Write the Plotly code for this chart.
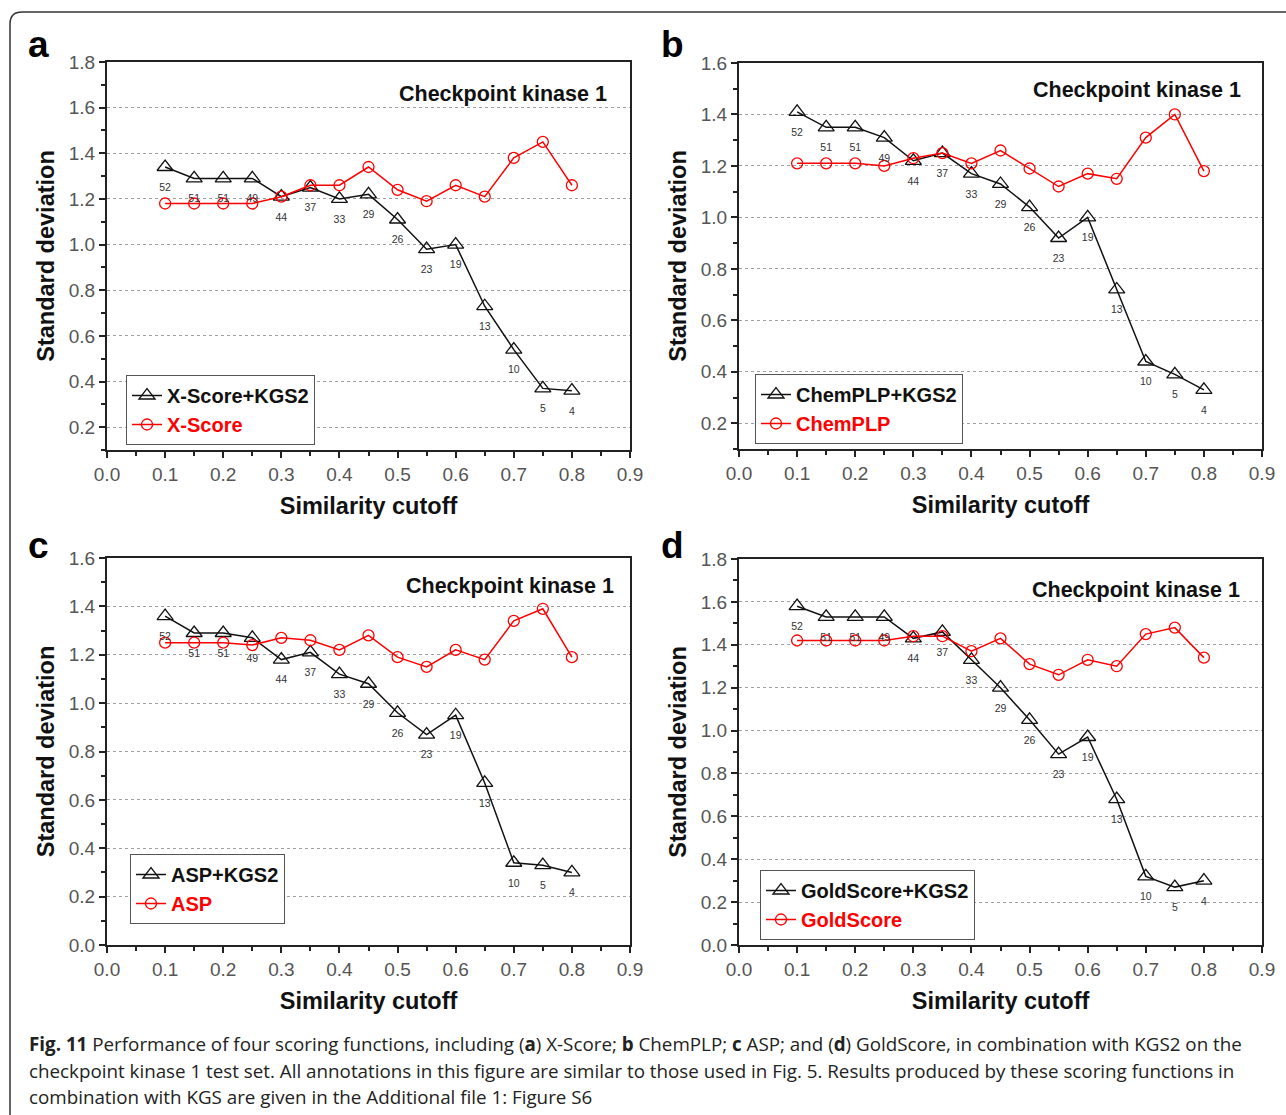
import plotly.graph_objects as go

W, H = 1286, 1115

# ---------------- data ----------------
cutoffs = [0.1, 0.15, 0.2, 0.25, 0.3, 0.35, 0.4, 0.45, 0.5, 0.55, 0.6, 0.65, 0.7, 0.75, 0.8]
set_sizes = ["52", "51", "51", "49", "44", "37", "33", "29", "26", "23", "19", "13", "10", "5", "4"]

xscore_kgs2 = [1.34, 1.29, 1.29, 1.29, 1.21, 1.25, 1.20, 1.22, 1.11, 0.98, 1.00, 0.73, 0.54, 0.37, 0.36]
xscore = [1.18, 1.18, 1.18, 1.18, 1.21, 1.26, 1.26, 1.34, 1.24, 1.19, 1.26, 1.21, 1.38, 1.45, 1.26]

chemplp_kgs2 = [1.41, 1.35, 1.35, 1.31, 1.22, 1.25, 1.17, 1.13, 1.04, 0.92, 1.00, 0.72, 0.44, 0.39, 0.33]
chemplp = [1.21, 1.21, 1.21, 1.20, 1.23, 1.25, 1.21, 1.26, 1.19, 1.12, 1.17, 1.15, 1.31, 1.40, 1.18]

asp_kgs2 = [1.36, 1.29, 1.29, 1.27, 1.18, 1.21, 1.12, 1.08, 0.96, 0.87, 0.95, 0.67, 0.34, 0.33, 0.30]
asp = [1.25, 1.25, 1.25, 1.24, 1.27, 1.26, 1.22, 1.28, 1.19, 1.15, 1.22, 1.18, 1.34, 1.39, 1.19]

goldscore_kgs2 = [1.58, 1.53, 1.53, 1.53, 1.43, 1.46, 1.33, 1.20, 1.05, 0.89, 0.97, 0.68, 0.32, 0.27, 0.30]
goldscore = [1.42, 1.42, 1.42, 1.42, 1.44, 1.44, 1.37, 1.43, 1.31, 1.26, 1.33, 1.30, 1.45, 1.48, 1.34]

panel_letters = ["a", "b", "c", "d"]
method_names = ["X-Score", "ChemPLP", "ASP", "GoldScore"]
y_ranges = [(0.1, 1.8), (0.1, 1.6), (0.0, 1.6), (0.0, 1.8)]
panel_title = "Checkpoint kinase 1"
x_title = "Similarity cutoff"
y_title = "Standard deviation"

caption_lines = [
    "<b>Fig. 11</b> Performance of four scoring functions, including (<b>a</b>) X-Score; <b>b</b> ChemPLP; "
    "<b>c</b> ASP; and (<b>d</b>) GoldScore, in combination with KGS2 on the",
    "checkpoint kinase 1 test set. All annotations in this figure are similar to those used in Fig. 5. "
    "Results produced by these scoring functions in",
    "combination with KGS are given in the Additional file 1: Figure S6",
]

kgs_series = [xscore_kgs2, chemplp_kgs2, asp_kgs2, goldscore_kgs2]
base_series = [xscore, chemplp, asp, goldscore]

# ---------------- layout helpers (pixel -> paper) ----------------
def px(x):
    return x / W

def py(y):
    return 1 - y / H

# plot-area boxes in pixels: (left, right, top, bottom)
boxes = [(107, 630, 62, 450), (739, 1262, 63, 449), (107, 630, 558, 945), (739, 1262, 559, 945)]
legend_pos = [(126, 375), (755, 374), (130, 854), (760, 870)]
title_pos = [(609, 94), (1243, 90), (616, 586), (1242, 590)]
letter_pos = [(38, 44), (672, 44), (38, 546), (672, 546)]

FONT = "Liberation Sans, Arial, sans-serif"
AXIS_COLOR = "#222222"
TICK_FONT = dict(family=FONT, size=19, color="#555555")
TITLE_FONT = dict(family=FONT, size=23.5, color="#111111")

fig = go.Figure()
layout = dict(
    width=W, height=H,
    margin=dict(l=0, r=0, t=0, b=0),
    paper_bgcolor="white", plot_bgcolor="white",
    template="none",
    showlegend=True,
    annotations=[], shapes=[],
)

for i in range(4):
    n = i + 1
    xa = "x" if n == 1 else f"x{n}"
    ya = "y" if n == 1 else f"y{n}"
    leg = "legend" if n == 1 else f"legend{n}"
    name = method_names[i]

    fig.add_trace(go.Scatter(
        x=cutoffs, y=kgs_series[i], xaxis=xa, yaxis=ya, legend=leg,
        mode="lines+markers",
        name=f"<b>{name}+KGS2</b>",
        line=dict(color="#111111", width=1.5),
        marker=dict(symbol="triangle-up-open", size=14, color="#111111", line=dict(width=1.3)),
    ))
    fig.add_trace(go.Scatter(
        x=cutoffs, y=base_series[i], xaxis=xa, yaxis=ya, legend=leg,
        mode="lines+markers",
        name=f'<span style="color:#ff0000"><b>{name}</b></span>',
        line=dict(color="#ff0000", width=1.5),
        marker=dict(symbol="circle-open", size=11, color="#ff0000", line=dict(width=1.3)),
    ))
    # set-size labels under the triangles (invisible spacer markers push the text down)
    fig.add_trace(go.Scatter(
        x=cutoffs, y=kgs_series[i], xaxis=xa, yaxis=ya,
        mode="markers+text", text=set_sizes, textposition="bottom center",
        marker=dict(size=24, color="rgba(0,0,0,0)"),
        textfont=dict(family=FONT, size=10.5, color="#333333"),
        showlegend=False, hoverinfo="skip",
    ))

    l, r, t, b = boxes[i]
    xkey = "xaxis" if n == 1 else f"xaxis{n}"
    ykey = "yaxis" if n == 1 else f"yaxis{n}"
    layout[xkey] = dict(
        domain=[px(l), px(r)], anchor=ya, range=[0, 0.9],
        tick0=0, dtick=0.1, tickformat=".1f",
        ticks="outside", ticklen=6, tickwidth=2, tickcolor=AXIS_COLOR,
        minor=dict(dtick=0.05, ticks="outside", ticklen=4, tickwidth=2, tickcolor=AXIS_COLOR, showgrid=False),
        showline=True, linecolor=AXIS_COLOR, linewidth=2, mirror=True,
        showgrid=False, zeroline=False, automargin=False,
        tickfont=TICK_FONT,
        title=dict(text=f"<b>{x_title}</b>", font=TITLE_FONT, standoff=14),
    )
    y0, y1 = y_ranges[i]
    layout[ykey] = dict(
        domain=[py(b), py(t)], anchor=xa, range=[y0, y1],
        tick0=0, dtick=0.2, tickformat=".1f",
        ticks="outside", ticklen=6, tickwidth=2, tickcolor=AXIS_COLOR,
        minor=dict(dtick=0.1, ticks="outside", ticklen=4, tickwidth=2, tickcolor=AXIS_COLOR, showgrid=False),
        showline=True, linecolor=AXIS_COLOR, linewidth=2, mirror=True,
        showgrid=True, gridcolor="#a0a0a0", gridwidth=1, griddash="dot",
        zeroline=False, automargin=False,
        tickfont=TICK_FONT,
        title=dict(text=f"<b>{y_title}</b>", font=TITLE_FONT, standoff=8),
    )
    lx, ly = legend_pos[i]
    layout[leg] = dict(
        x=px(lx), y=py(ly), xanchor="left", yanchor="top",
        bgcolor="white", bordercolor="#555555", borderwidth=1,
        font=dict(family=FONT, size=20, color="#111111"),
        tracegroupgap=0, itemsizing="trace",
    )
    tx, ty = title_pos[i]
    layout["annotations"].append(dict(
        text=f"<b>{panel_title}</b>", x=px(tx), y=py(ty), xref="paper", yref="paper",
        xanchor="right", yanchor="middle", showarrow=False,
        font=dict(family=FONT, size=21.5, color="#111111"),
    ))
    ax_, ay_ = letter_pos[i]
    layout["annotations"].append(dict(
        text=f"<b>{panel_letters[i]}</b>", x=px(ax_), y=py(ay_), xref="paper", yref="paper",
        xanchor="center", yanchor="middle", showarrow=False,
        font=dict(family=FONT, size=37, color="#000000"),
    ))

# caption
cap_y = [1044, 1071, 1097]
for line, yy in zip(caption_lines, cap_y):
    layout["annotations"].append(dict(
        text=line, x=px(27), y=py(yy), xref="paper", yref="paper",
        xanchor="left", yanchor="middle", showarrow=False,
        font=dict(family="Open Sans, sans-serif", size=18.8, color="#222222"),
    ))

# rounded border (open on right/bottom as in the cropped figure)
r0 = 12
path = (f"M {px(10)},{py(H + 5)} L {px(10)},{py(12 + r0)} "
        f"Q {px(10)},{py(12)} {px(10 + r0)},{py(12)} L {px(W + 5)},{py(12)}")
layout["shapes"].append(dict(type="path", path=path, xref="paper", yref="paper",
                             line=dict(color="#333333", width=1.5)))

fig.update_layout(**layout)
fig.write_html("out.html")
